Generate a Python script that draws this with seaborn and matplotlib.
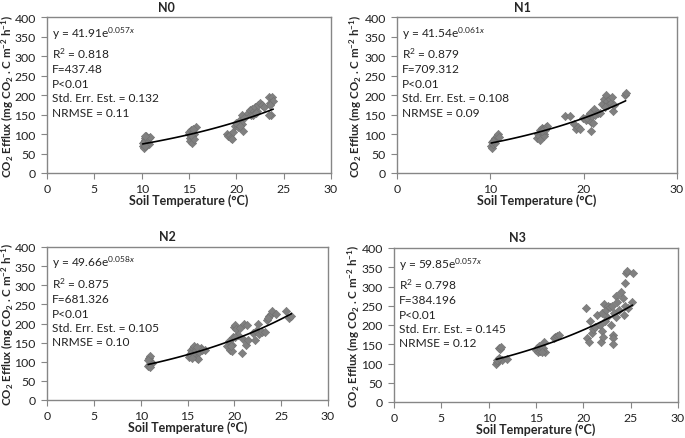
import numpy as np
import pandas as pd
import matplotlib
matplotlib.use("Agg")
import matplotlib.pyplot as plt
import seaborn as sns

# ---------------- data ----------------
panels = ["N0", "N1", "N2", "N3"]

n0_x = [10.1, 10.2, 10.2, 10.3, 10.3, 10.4, 10.5, 10.5, 10.6, 10.6, 10.8, 10.9, 10.8, 10.3, 10.1, 10.4,
        15.0, 15.0, 15.1, 15.1, 15.2, 15.3, 15.3, 15.4, 15.5, 15.5, 15.7, 15.2, 15.4,
        19.0, 19.1, 19.3, 19.4, 19.5, 19.6, 19.9, 20.1, 20.2, 20.3, 20.5, 20.6, 20.7, 20.6, 20.8, 20.0, 20.4,
        21.2, 21.4, 21.5, 21.7, 21.9, 22.0, 22.2, 22.3, 22.5, 22.7, 22.9, 23.5, 23.6, 23.7, 23.8, 23.5, 23.9, 23.6, 21.8, 22.1]
n0_y = [70, 65, 80, 85, 75, 90, 95, 72, 85, 78, 90, 93, 75, 95, 78, 68,
        100, 105, 90, 82, 110, 78, 95, 105, 100, 88, 118, 98, 112,
        100, 95, 98, 90, 86, 105, 120, 125, 118, 130, 138, 125, 108, 148, 140, 128, 120,
        155, 162, 150, 165, 158, 170, 160, 175, 180, 175, 170, 195, 180, 150, 195, 150, 185, 175, 150, 155]

n1_x = [10.1, 10.2, 10.2, 10.3, 10.4, 10.5, 10.6, 10.7, 10.8, 10.5, 10.3, 10.9,
        15.0, 15.1, 15.2, 15.3, 15.4, 15.5, 15.6, 15.7, 15.8, 16.0, 16.1, 15.3, 15.9, 15.5,
        18.0, 18.5,
        19.0, 19.2, 19.4, 19.6, 19.9, 20.2, 20.5, 20.6, 20.8, 20.8, 20.9, 21.0, 21.1, 21.2, 20.7, 21.0, 21.5,
        21.8, 22.0, 22.2, 22.4, 22.5, 22.6, 22.8, 22.9, 23.0, 23.1, 23.3, 24.4, 24.5, 22.3]
n1_y = [70, 65, 80, 75, 85, 90, 88, 95, 100, 78, 82, 92,
        90, 100, 95, 110, 105, 115, 112, 100, 95, 118, 120, 85, 110, 108,
        147, 147,
        125, 112, 118, 113, 140, 135, 138, 150, 108, 130, 145, 160, 165, 150, 155, 128, 155,
        155, 178, 190, 200, 185, 175, 190, 180, 195, 160, 175, 200, 205, 170]

n2_x = [10.8, 10.9, 10.9, 11.0, 11.0, 11.1, 11.2, 10.8, 11.0,
        15.2, 15.3, 15.4, 15.5, 15.6, 15.7, 15.8, 15.9, 16.0, 16.1, 16.2, 16.4, 16.6, 16.9, 15.5, 16.0,
        19.2, 19.4, 19.5, 19.7, 19.8, 19.9, 20.0, 20.1, 20.2, 20.4, 20.6, 20.8, 20.9, 21.0, 21.2, 21.3, 21.5, 20.1, 19.6,
        22.0, 22.2, 22.3, 22.5, 22.6, 23.0, 23.3, 23.5, 23.7, 23.9, 24.0, 24.5, 25.5, 25.8, 26.1, 23.6]
n2_y = [88, 92, 110, 115, 95, 100, 98, 105, 85,
        112, 120, 130, 125, 135, 140, 118, 130, 110, 108, 125, 135, 130, 132, 110, 138,
        142, 155, 130, 145, 128, 165, 190, 195, 185, 170, 188, 122, 160, 200, 145, 195, 158, 165, 140,
        175, 158, 180, 200, 172, 178, 178, 210, 220, 225, 232, 225, 232, 215, 220, 215]

n3_x = [10.8, 10.9, 11.0, 11.1, 11.2, 11.3, 11.4, 11.9, 10.9, 11.1,
        15.0, 15.1, 15.2, 15.3, 15.4, 15.5, 15.7, 15.8, 16.0, 16.9, 17.0, 17.2, 17.4, 15.6,
        20.3, 20.4, 20.6, 20.7, 20.9, 21.0, 21.2, 21.4, 21.8, 21.9, 22.0, 22.0, 22.1, 22.2, 22.4, 22.5,
        22.6, 22.8, 22.9, 23.0, 23.1, 23.1, 23.1, 23.2, 22.3,
        23.4, 23.5, 23.6, 23.8, 24.0, 24.2, 24.3, 24.4, 24.5, 24.6, 24.4, 25.2, 25.1, 24.7]
n3_y = [100, 105, 110, 140, 138, 142, 110, 112, 108, 115,
        135, 140, 130, 145, 132, 138, 140, 155, 130, 165, 170, 172, 175, 130,
        245, 165, 155, 210, 180, 190, 195, 225, 200, 155, 185, 230, 170, 255, 240, 220,
        250, 248, 200, 250, 175, 165, 150, 230, 210,
        220, 275, 260, 240, 285, 270, 225, 310, 335, 340, 250, 335, 260, 245]

xs = [n0_x, n1_x, n2_x, n3_x]
ys = [n0_y, n1_y, n2_y, n3_y]

fit_a = [41.91, 41.54, 49.66, 59.85]
fit_b = [0.057, 0.061, 0.058, 0.057]
r2 = ["0.818", "0.879", "0.875", "0.798"]
fval = ["437.48", "709.312", "681.326", "384.196"]
pval = ["P<0.01"] * 4
see = ["0.132", "0.108", "0.105", "0.145"]
nrmse = ["0.11", "0.09", "0.10", "0.12"]
xticks_list = [[0, 5, 10, 15, 20, 25, 30], [0, 10, 20, 30],
               [0, 5, 10, 15, 20, 25, 30], [0, 5, 10, 15, 20, 25, 30]]
yticks = [0, 50, 100, 150, 200, 250, 300, 350, 400]

# ---------------- style ----------------
sns.set_theme(style="white")
plt.rcParams["font.family"] = ["Lato", "DejaVu Sans"]
plt.rcParams["mathtext.fontset"] = "custom"
plt.rcParams["mathtext.rm"] = "Lato"
plt.rcParams["mathtext.it"] = "Lato:italic"
plt.rcParams["mathtext.bf"] = "Lato:bold"

fig = plt.figure(figsize=(6.85, 4.39), dpi=100)
W, H = 685, 439
# (left, right, top, bottom) in pixels
boxes = [(47, 331, 18, 174), (397, 677, 18, 174), (47, 328, 248, 401), (394, 678, 249, 403)]
titles_pos = [(166, 8), (522, 8), (167, 237), (517, 238)]
ylabel_right = [16, 364, 16, 362]

spine_col = "#868686"
for i in range(4):
    l, r, t, b = boxes[i]
    ax = fig.add_axes([l / W, (H - b) / H, (r - l) / W, (b - t) / H])
    df = pd.DataFrame({"x": xs[i], "y": ys[i]})
    sns.scatterplot(data=df, x="x", y="y", ax=ax, marker="D", s=18,
                    color="#808080", edgecolor="#707070", linewidth=0.4, zorder=2)
    xf = np.linspace(min(xs[i]), max(xs[i]), 100)
    fit_df = pd.DataFrame({"x": xf, "y": fit_a[i] * np.exp(fit_b[i] * xf)})
    sns.lineplot(data=fit_df, x="x", y="y", ax=ax, color="black", linewidth=1.2, zorder=3)

    ax.set_xlim(0, 30)
    ax.set_ylim(0, 400)
    ax.set_xticks(xticks_list[i])
    ax.set_yticks(yticks)
    ax.tick_params(axis="both", which="major", direction="out", length=4, width=0.8,
                   color=spine_col, labelsize=8.8, labelcolor="#222222", pad=3,
                   bottom=True, left=True)
    ax.tick_params(axis="y", pad=4)
    for sp in ax.spines.values():
        sp.set_color(spine_col)
        sp.set_linewidth(1.0)
        sp.set_visible(True)

    ax.set_xlabel("Soil Temperature (°C)", fontsize=9, fontweight="bold", labelpad=0)
    ax.set_ylabel(r"CO$_\mathbf{2}$ Efflux (mg CO$_\mathbf{2}$ . C m$^\mathbf{-2}$ h$^\mathbf{-1}$)",
                  fontsize=8.3, fontweight="bold")
    ax.yaxis.set_label_coords((ylabel_right[i] - l) / (r - l), 0.5)

    txt = "\n".join([
        f"y = {fit_a[i]:.2f}e$^{{{fit_b[i]:.3f}x}}$",
        f"R$^2$ = {r2[i]}",
        f"F={fval[i]}",
        pval[i],
        f"Std. Err. Est. = {see[i]}",
        f"NRMSE = {nrmse[i]}",
    ])
    ax.text(0.018, 0.955, txt, transform=ax.transAxes, ha="left", va="top",
            fontsize=8.6, color="#222222", linespacing=1.38)

    tx, ty = titles_pos[i]
    fig.text(tx / W, 1 - ty / H, panels[i], ha="center", va="center",
             fontsize=9, fontweight="bold")

fig.savefig("out.png", dpi=100)
